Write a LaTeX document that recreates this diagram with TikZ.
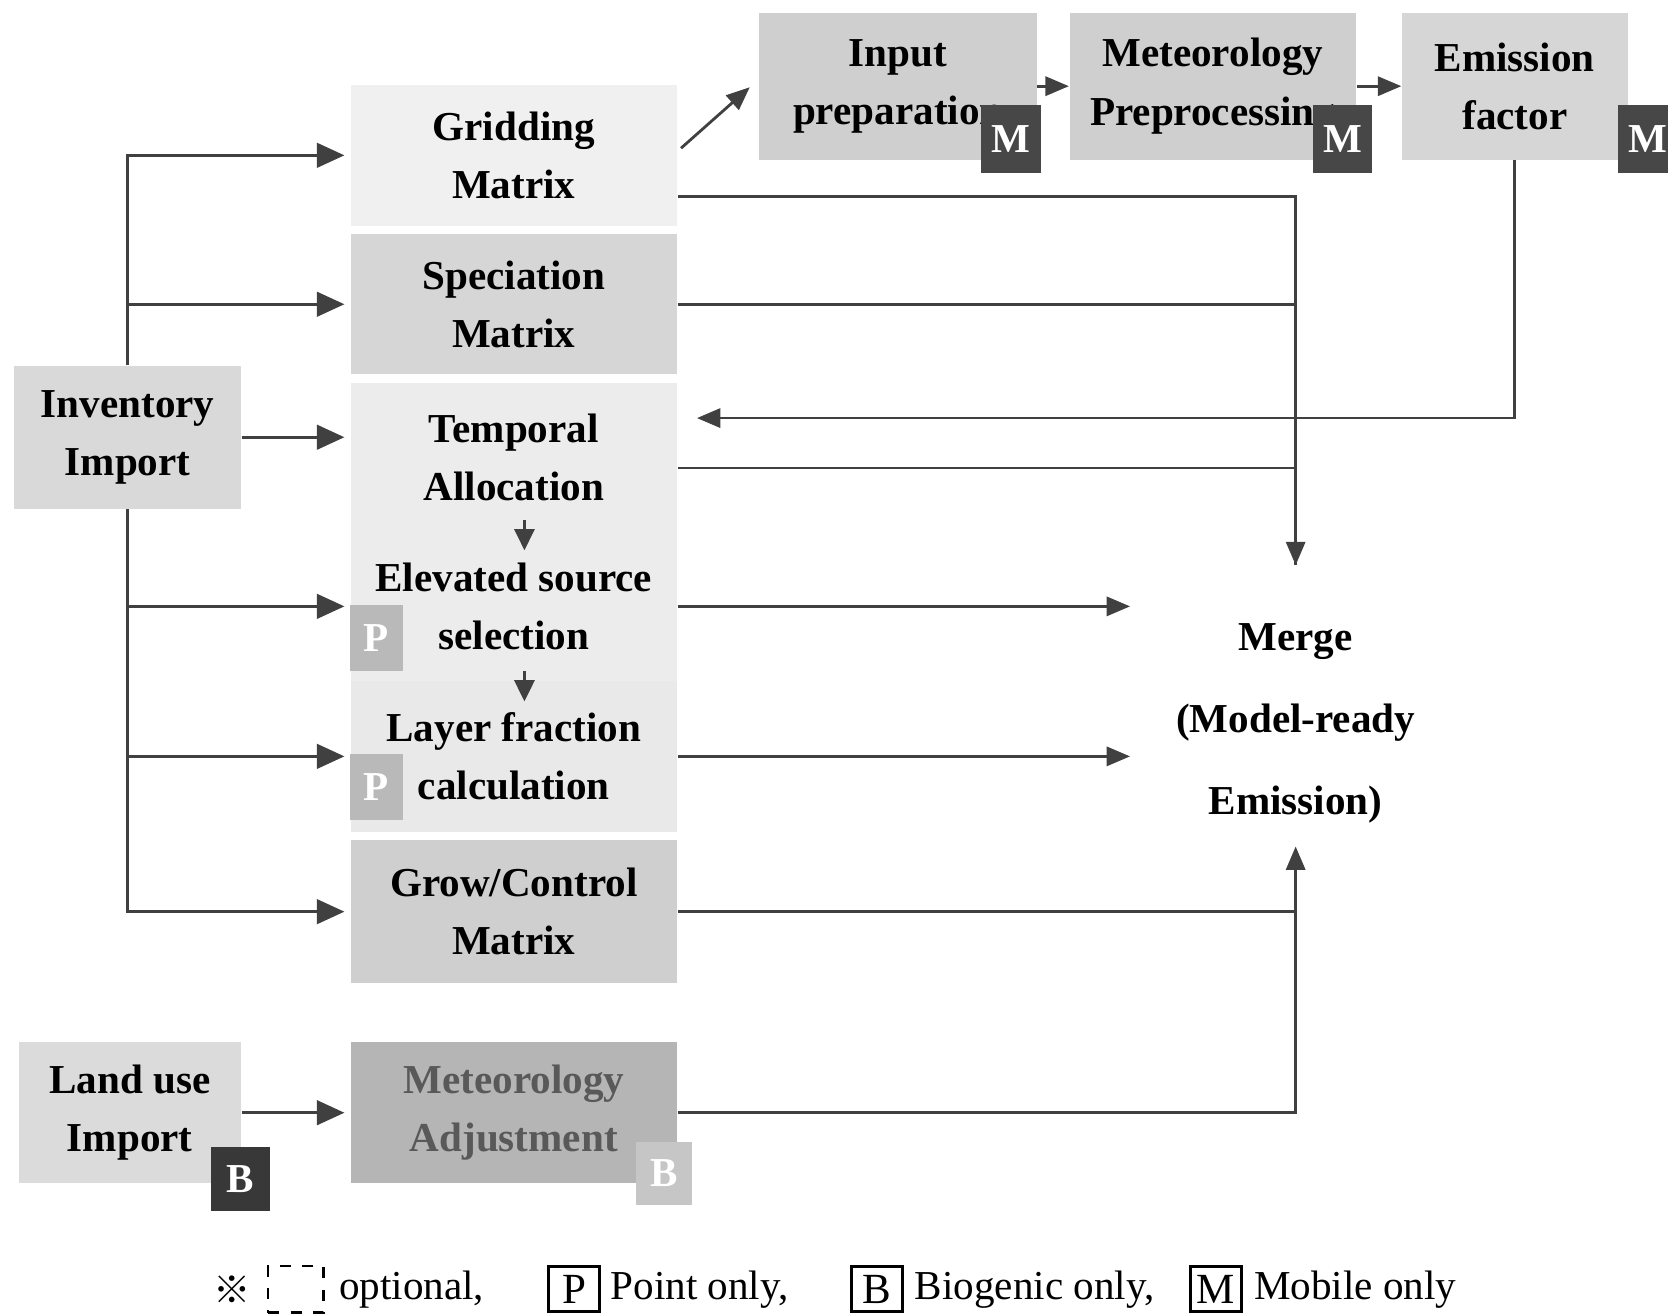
\documentclass[tikz,border=0pt]{standalone}
\usepackage{fontspec}
\setmainfont{Liberation Serif}
\newfontfamily\refmark{Noto Sans CJK SC}
\usetikzlibrary{arrows.meta, calc, positioning}

\begin{document}
\begin{tikzpicture}[x = 0.1mm, y = -0.1mm,
	stage/.style = {fill = #1, inner sep = 0pt, align = center, minimum width = 30.7mm, minimum height = 14mm, font = \bfseries\fontsize{11}{15.6}\selectfont},
	badge/.style = {fill = #1, text = white, inner sep = 0pt, minimum width = 5mm, minimum height = 6.2mm, font = \bfseries\fontsize{11}{11}\selectfont},
	feed/.style = {draw = black!75, line width = 0.9pt, shorten > = 0.5mm, -{Triangle[length = 2.6mm, width = 2.3mm]}},
	link/.style = {draw = black!75, line width = 0.75pt},
	tip/.style = {-{Triangle[length = 2.2mm, width = 1.8mm]}},
	small/.style = {-{Triangle[length = 2mm, width = 1.9mm]}},
	key/.style = {draw, line width = 0.8pt, inner sep = 0pt, minimum width = 4.8mm, minimum height = 4.2mm, font = \fontsize{11.5}{12}\selectfont},
	keytext/.style = {inner sep = 0pt, font = \fontsize{11}{12}\selectfont}]
	
	\useasboundingbox (0, 0) rectangle (1568, 1236);
	
	% The processing stages
	
	\node [stage = gray!30, minimum width = 21.3mm, minimum height = 13.4mm] (inv) at (120, 411) {Inventory\\Import};
	\node [stage = gray!12, minimum height = 13.2mm] (grid) at (483, 146) {Gridding\\Matrix};
	\node [stage = gray!32, minimum height = 13.2mm] (spec) at (483, 286) {Speciation\\Matrix};
	\node [stage = gray!15] (temp) at (483, 430) {Temporal\\Allocation};
	\node [stage = gray!15] (elev) at (483, 570) {Elevated source\\selection};
	\node [stage = gray!17, minimum height = 14.2mm] (layer) at (483, 711) {Layer fraction\\calculation};
	\node [stage = gray!38, minimum height = 13.5mm] (grow) at (483, 857) {Grow/Control\\Matrix};
	
	\node [stage = gray!28, minimum width = 20.9mm, minimum height = 13.3mm] (land) at (122, 1046) {Land use\\Import};
	\node [stage = gray!58, minimum height = 13.3mm, text = black!65] (metadj) at (483, 1046) {Meteorology\\Adjustment};
	
	\node [stage = gray!38, minimum width = 26.1mm, minimum height = 13.8mm] (input) at (844, 81) {Input\\preparation};
	\node [stage = gray!38, minimum width = 26.9mm, minimum height = 13.8mm] (metpre) at (1140, 81) {Meteorology\\Preprocessing};
	\node [stage = gray!32, minimum width = 21.2mm, minimum height = 13.8mm] (emis) at (1424, 81) {Emission\\factor};
	
	\node [align = center, inner sep = 0pt, minimum width = 31mm, minimum height = 29.6mm, font = \bfseries\fontsize{11}{21.9}\selectfont] (merge) at (1218, 680) {Merge\\(Model-ready\\Emission)};
	
	% Source type marks
	
	\node [badge = gray!55] (pelev) at ($(elev.west) + (25, 30)$) {P};
	\node [badge = gray!55] (player) at ($(layer.west) + (25, 29)$) {P};
	\node [badge = black!72, minimum width = 5.6mm, minimum height = 6.4mm] (minput) at ($(input.south east) + (-25, -20)$) {M};
	\node [badge = black!72, minimum width = 5.6mm, minimum height = 6.4mm] (mmetpre) at ($(metpre.south east) + (-13, -20)$) {M};
	\node [badge = black!72, minimum width = 5.6mm, minimum height = 6.4mm] (memis) at ($(emis.south east) + (18, -20)$) {M};
	\node [badge = black!78, minimum width = 5.5mm, minimum height = 6mm] (bland) at ($(land.south east) + (-1, -5)$) {B};
	\node [badge = gray!45, minimum width = 5.2mm, minimum height = 6mm] (bmetadj) at ($(metadj.south east) + (-13, -10)$) {B};
	
	% Inventory feeds
	
	\foreach \n in {grid, spec}
		\draw [feed] (inv.north) |- (\n.west);
	\draw [feed] (inv.east) -- (inv.east -| temp.west);
	\foreach \n in {elev, layer, grow}
		\draw [feed] (inv.south) |- (\n.west);
	\draw [feed] (land) -- (metadj);
	
	\draw [link, small] ($(temp.south) + (10, -12)$) -- ($(elev.north) + (10, 18)$);
	\draw [link, small] ($(elev.south) + (10, -10)$) -- ($(layer.north) + (10, 20)$);
	
	% Mobile chain
	
	\draw [link, tip] ($(grid.north east) + (3, 60)$) -- ($(input.west) + (-8, 1)$);
	\draw [link, tip] (input.east) -- (metpre.west);
	\draw [link, tip] (metpre.east) -- (emis.west);
	\draw [link, tip] (emis.south) |- ($(temp.east) + (18, -37)$);
	
	% Into the merge
	
	\draw [link, tip] ($(grid.east) + (0, 39)$) -| (merge.north);
	\draw [link] (spec.east) -| (merge.north);
	\draw [link] ($(temp.east) + (0, 10)$) -| (merge.north);
	\draw [link, tip] (elev.east) -- (elev.east -| merge.west);
	\draw [link, tip] (layer.east) -- (layer.east -| merge.west);
	\draw [link, tip] (grow.east) -| ($(merge.south) + (0, -33)$);
	\draw [link] (metadj.east) -| (grow.east -| merge.south);
	
	% Legend
	
	\node [inner sep = 0pt, font = \refmark\fontsize{10}{10}\selectfont] (star) at (218, 1212) {※};
	\node [draw, dashed, line width = 0.7pt, inner sep = 0pt, minimum width = 5.2mm, minimum height = 4.4mm] (optbox) at (278, 1212) {};
	\node [keytext, anchor = west] (opttext) at (318, 1212) {optional,};
	
	\node [key] (pkey) at (540, 1212) {P};
	\node [keytext, right = 0.8mm of pkey] (ptext) {Point only,};
	\node [key] (bkey) at (824, 1212) {B};
	\node [keytext, right = 1mm of bkey] (btext) {Biogenic only,};
	\node [key] (mkey) at (1143, 1212) {M};
	\node [keytext, right = 1mm of mkey] (mtext) {Mobile only};

\end{tikzpicture}
\end{document}
